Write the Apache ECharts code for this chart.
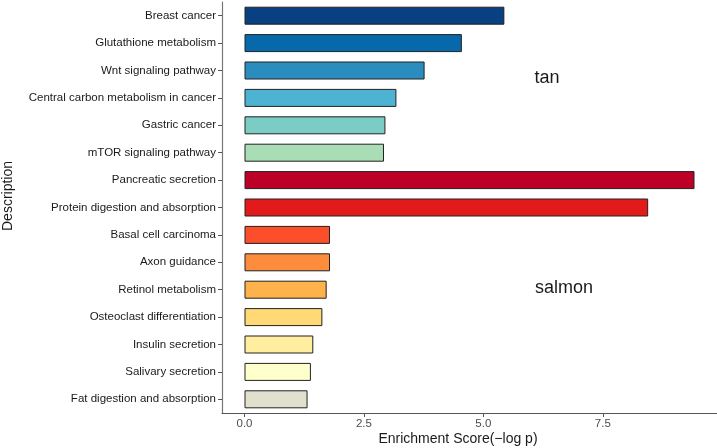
<!DOCTYPE html>
<html><head><meta charset="utf-8">
<script src="https://cdn.jsdelivr.net/npm/echarts@6/dist/echarts.min.js"></script>
<style>html,body{margin:0;padding:0;background:#fff}#c{width:717px;height:448px}</style>
</head><body><div id="c"></div>
<script>
const categories = ["Breast cancer","Glutathione metabolism","Wnt signaling pathway","Central carbon metabolism in cancer","Gastric cancer","mTOR signaling pathway","Pancreatic secretion","Protein digestion and absorption","Basal cell carcinoma","Axon guidance","Retinol metabolism","Osteoclast differentiation","Insulin secretion","Salivary secretion","Fat digestion and absorption"];
const scores = [5.44,4.55,3.77,3.18,2.95,2.92,9.42,8.45,1.79,1.79,1.72,1.63,1.44,1.39,1.32];
const barColors = ["#084081","#0868ac","#2b8cbe","#4eb3d3","#7bccc4","#a8ddb5","#bd0026","#e31a1c","#fc4e2a","#fd8d3c","#feb24c","#fed976","#ffeda0","#ffffcc","#e0e0cc"];
const xTicks = [0,2.5,5,7.5];
const groupLabels = ["tan","salmon"];

const chart = echarts.init(document.getElementById('c'));
const font = '"Liberation Sans", Arial, sans-serif';
chart.setOption({
  animation:false,
  grid:{left:222,right:0,top:2,bottom:35,containLabel:false},
  xAxis:{type:'value',min:-0.471,max:9.891,
    axisLine:{show:true,onZero:false,lineStyle:{color:'#555',width:1}},
    axisTick:{show:true,length:4,lineStyle:{color:'#555'},customValues:xTicks},
    axisLabel:{customValues:xTicks,color:'#4d4d4d',fontSize:11.5,fontFamily:font,margin:5,
      formatter:v=>v.toFixed(1)},
    splitLine:{show:false}},
  yAxis:{type:'category',data:categories,inverse:true,
    axisLine:{show:true,onZero:false,lineStyle:{color:'#777',width:1.2}},
    axisTick:{show:true,length:4,alignWithLabel:true,lineStyle:{color:'#555'}},
    axisLabel:{color:'#1a1a1a',fontSize:11.5,fontFamily:font,margin:6}},
  series:[{type:'bar',barWidth:18,
    data:scores.map((v,i)=>({value:v,itemStyle:{color:barColors[i]}})),
    itemStyle:{borderColor:'#222',borderWidth:1}}],
  graphic:[
    {type:'text',x:458,y:439,style:{text:'Enrichment Score(\u2212log p)',font:'14px '+font,fill:'#1a1a1a',textAlign:'center',textVerticalAlign:'middle'}},
    {type:'text',x:8,y:196,rotation:Math.PI/2,style:{text:'Description',font:'14px '+font,fill:'#1a1a1a',textAlign:'center',textVerticalAlign:'middle'}},
    {type:'text',x:547,y:78,style:{text:groupLabels[0],font:'18px '+font,fill:'#1a1a1a',textAlign:'center',textVerticalAlign:'middle'}},
    {type:'text',x:564,y:288,style:{text:groupLabels[1],font:'18px '+font,fill:'#1a1a1a',textAlign:'center',textVerticalAlign:'middle'}}
  ]
});
</script></body></html>
